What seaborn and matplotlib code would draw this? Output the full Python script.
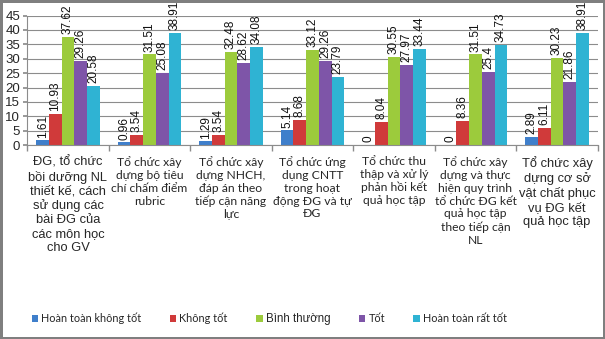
import matplotlib
matplotlib.use("Agg")
import matplotlib.pyplot as plt
import seaborn as sns
import pandas as pd
import numpy as np
from matplotlib.patches import Patch

categories = [
    "ĐG, tổ chức\nbồi dưỡng NL\nthiết kế, cách\nsử dụng các\nbài ĐG của\ncác môn học\ncho GV",
    "Tổ chức xây\ndựng bộ tiêu\nchí chấm điểm\nrubric",
    "Tổ chức xây\ndựng NHCH,\nđáp án theo\ntiếp cận năng\nlực",
    "Tổ chức ứng\ndụng CNTT\ntrong hoạt\nđộng ĐG và tự\nĐG",
    "Tổ chức thu\nthập và xử lý\nphản hồi kết\nquả học tập",
    "Tổ chức xây\ndựng và thực\nhiện quy trình\ntổ chức ĐG kết\nquả học tập\ntheo tiếp cận\nNL",
    "Tổ chức xây\ndựng cơ sở\nvật chất phục\nvụ ĐG kết\nquả học tập",
]
series = ["Hoàn toàn không tốt", "Không tốt", "Bình thường", "Tốt", "Hoàn toàn rất tốt"]

hoan_toan_khong_tot = [1.61, 0.96, 1.29, 5.14, 0, 0, 2.89]
khong_tot = [10.93, 3.54, 3.54, 8.68, 8.04, 8.36, 6.11]
binh_thuong = [37.62, 31.51, 32.48, 33.12, 30.55, 31.51, 30.23]
tot = [29.26, 25.08, 28.62, 29.26, 27.97, 25.4, 21.86]
hoan_toan_rat_tot = [20.58, 38.91, 34.08, 23.79, 33.44, 34.73, 38.91]

values = [hoan_toan_khong_tot, khong_tot, binh_thuong, tot, hoan_toan_rat_tot]
colors = ["#3F7FCB", "#D03A3A", "#9CCB3C", "#7E55A8", "#2FB3D3"]

rows = []
for s, vals in zip(series, values):
    for c, v in zip(categories, vals):
        rows.append({"cat": c, "series": s, "value": v})
df = pd.DataFrame(rows)

sns.set_theme(style="white")
plt.rcParams["font.family"] = ["Liberation Sans", "DejaVu Sans"]

fig = plt.figure(figsize=(6.05, 3.39), dpi=100)
fig.patch.set_edgecolor("#7f7f7f")
fig.patch.set_linewidth(2.5)
ax = fig.add_axes([0.045, 0.572, 0.943, 0.382])

sns.barplot(data=df, x="cat", y="value", hue="series", hue_order=series,
            order=categories, palette=colors, width=0.78, ax=ax,
            edgecolor="none", legend=False, saturation=1)

for cont in ax.containers:
    labels = [f"{b.get_height():g}" for b in cont]
    ax.bar_label(cont, labels=labels, rotation=90, padding=2, fontsize=8.5,
                 color="#111111")

ax.set_ylim(0, 45)
ax.set_yticks(np.arange(0, 46, 5))
ax.set_xlim(-0.5, len(categories) - 0.5)
ax.yaxis.grid(True, color="#8c8c8c", linewidth=0.8)
ax.set_axisbelow(True)
ax.set_xlabel("")
ax.set_ylabel("")
for side in ["top", "right"]:
    ax.spines[side].set_visible(False)
for side in ["left", "bottom"]:
    ax.spines[side].set_color("#8c8c8c")
    ax.spines[side].set_linewidth(0.8)

ax.tick_params(axis="y", labelsize=9.5, length=3, color="#8c8c8c", pad=2, left=True)
ax.set_xticks(np.arange(len(categories)))
ax.set_xticklabels(categories, fontsize=9, linespacing=1.2, va="top")
ax.tick_params(axis="x", length=0, pad=8)
ax.set_xticks(np.arange(len(categories) + 1) - 0.5, minor=True)
ax.tick_params(axis="x", which="minor", length=4, color="#8c8c8c", bottom=True)

for i, lab in enumerate(ax.get_xticklabels()):
    if i in (0, 6):
        lab.set_fontfamily(["Liberation Sans", "DejaVu Sans"])
        lab.set_fontsize(9.3)
    else:
        lab.set_fontfamily(["Lato", "DejaVu Sans"])
        lab.set_fontsize(8.7)

handles = [Patch(facecolor=c, edgecolor="none") for c in colors]
leg = fig.legend(handles, series, loc="center", bbox_to_anchor=(0.445, 0.06),
                 ncol=5, frameon=False, fontsize=7.8, handlelength=0.6,
                 handleheight=0.6, handletextpad=0.3, columnspacing=2.6)
for t in leg.get_texts():
    if t.get_text() == "Bình thường":
        t.set_fontfamily(["Liberation Sans", "DejaVu Sans"])
        t.set_fontsize(8.3)
    else:
        t.set_fontfamily(["Lato", "DejaVu Sans"])

fig.savefig("out.png", dpi=100, edgecolor=fig.get_edgecolor())
